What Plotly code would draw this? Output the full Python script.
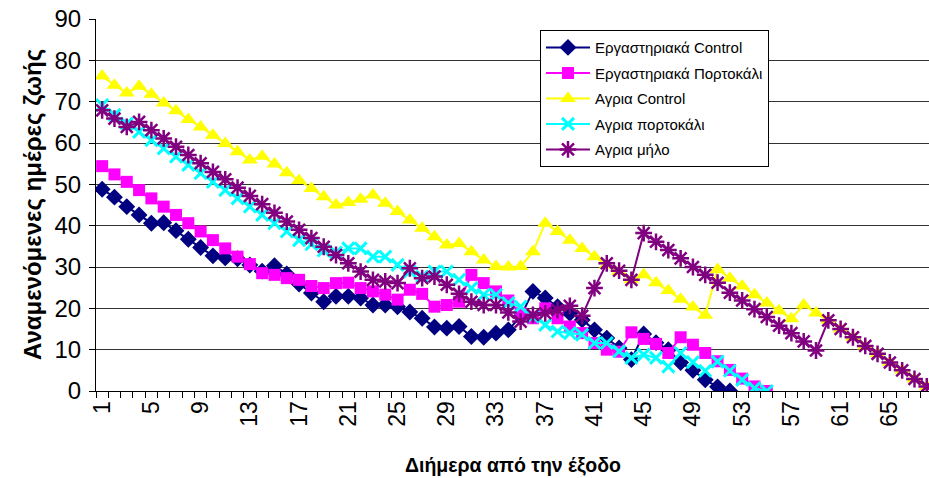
import plotly.graph_objects as go

days = list(range(1, 69))
tick_labels = [str(v) for v in range(1, 69, 4)]

lab_control = [48.8, 46.9, 44.6, 42.6, 40.6, 40.7, 38.8, 36.7, 34.7, 32.7,
               32.2, 32.0, 30.5, 29.0, 30.3, 28.3, 25.9, 23.7, 21.6, 22.9,
               22.9, 22.5, 20.8, 20.8, 20.4, 19.1, 17.6, 15.5, 15.2, 15.6,
               13.2, 13.0, 14.0, 14.8, 18.0, 24.1, 22.5, 20.4, 18.8, 17.2,
               14.8, 12.8, 10.4, 7.6, 13.8, 11.7, 10.0, 6.9, 5.0, 2.7,
               1.0, 0.0]

lab_orange = [54.4, 52.4, 50.6, 48.6, 46.6, 44.6, 42.6, 40.6, 38.6, 36.5,
              34.5, 32.5, 30.7, 28.5, 28.1, 27.3, 26.9, 25.4, 24.9, 26.1,
              26.2, 24.9, 24.1, 23.3, 22.1, 24.5, 23.5, 20.4, 20.8, 21.6,
              28.1, 26.1, 24.1, 21.9, 18.8, 17.6, 20.0, 17.6, 15.6, 14.0,
              11.6, 10.0, 9.5, 14.2, 12.6, 11.4, 9.2, 13.0, 11.2, 9.2,
              7.2, 5.1, 3.0, 1.1, 0.0]

wild_control = [76.2, 74.0, 72.1, 73.7, 71.8, 69.7, 67.8, 65.7, 63.9, 61.9,
                59.9, 57.9, 55.9, 56.8, 54.9, 52.8, 50.9, 49.0, 47.0, 45.0,
                45.6, 46.4, 47.4, 45.4, 43.4, 41.4, 39.4, 37.3, 35.3, 35.7,
                33.7, 31.7, 30.1, 30.0, 30.1, 33.7, 40.6, 38.6, 36.5, 34.5,
                32.5, 30.5, 28.9, 26.9, 28.1, 26.2, 24.3, 22.2, 20.3, 18.3,
                29.4, 27.3, 25.4, 23.3, 21.3, 19.4, 17.5, 20.8, 18.9, 17.1,
                15.0, 13.0, 10.9, 9.0, 6.9, 5.0, 2.9, 1.1]

wild_orange = [69.2, 66.8, 64.7, 62.7, 60.7, 58.7, 56.7, 54.7, 52.7, 50.6,
               48.6, 46.6, 44.6, 42.6, 40.6, 38.6, 36.5, 35.5, 34.0, 33.5,
               34.5, 34.5, 32.5, 32.5, 30.5, 28.9, 27.7, 28.9, 28.9, 26.9,
               24.9, 23.3, 23.3, 21.3, 20.4, 18.0, 16.0, 14.4, 14.0, 13.6,
               11.6, 11.6, 9.6, 8.0, 8.8, 8.0, 5.9, 9.2, 7.0, 4.9,
               7.1, 4.9, 2.7, 0.7, 0.0]

wild_apple = [67.9, 65.9, 63.9, 65.1, 63.1, 61.1, 59.1, 57.1, 55.1, 53.0,
              51.2, 49.2, 47.2, 45.2, 43.1, 41.0, 39.0, 37.0, 34.9, 32.9,
              30.9, 28.9, 26.9, 26.5, 26.1, 29.7, 27.3, 27.7, 25.7, 23.5,
              21.6, 20.8, 20.8, 19.0, 16.8, 18.4, 18.8, 19.6, 20.6, 18.2,
              24.9, 30.9, 29.1, 26.9, 38.2, 36.1, 34.1, 32.1, 30.0, 28.1,
              26.2, 23.8, 21.9, 19.8, 17.9, 15.8, 14.0, 12.0, 9.8, 17.1,
              15.0, 13.0, 10.9, 9.0, 6.9, 5.0, 2.9, 1.1]

series_names = ["Εργαστηριακά Control", "Εργαστηριακά Πορτοκάλι", "Αγρια Control",
                "Αγρια πορτοκάλι", "Αγρια μήλο"]

FONT = "Liberation Sans, Arial, sans-serif"

fig = go.Figure()

def add(name, vals, color, symbol, size, marker_line=None, group="g"):
    marker = dict(symbol=symbol, size=size, color=color)
    if marker_line is not None:
        marker["line"] = dict(color=color, width=marker_line)
    else:
        marker["line"] = dict(width=0)
    fig.add_trace(go.Scatter(
        x=days[:len(vals)], y=vals, name=name, mode="lines+markers",
        line=dict(color=color, width=2), marker=marker, legendgroup=group,
    ))

add(series_names[0], lab_control, "#000080", "diamond", 13, group="a")
add(series_names[1], lab_orange, "#FF00FF", "square", 12, group="b")
add(series_names[2], wild_control, "#FFFF00", "triangle-up", 14, group="c")
add(series_names[3], wild_orange, "#00FFFF", "x-thin", 12, marker_line=3, group="d")
add(series_names[4], wild_apple, "#800080", "asterisk", 14, marker_line=2.5, group="e")

fig.update_layout(
    width=929, height=478,
    margin=dict(l=96, r=0, t=19, b=87),
    paper_bgcolor="white", plot_bgcolor="white",
    font=dict(family=FONT, color="black"),
    showlegend=True,
    legend=dict(
        x=0.533, y=0.97, xanchor="left", yanchor="top",
        bgcolor="white", bordercolor="black", borderwidth=1,
        font=dict(family=FONT, size=15, color="black"),
        traceorder="grouped", tracegroupgap=3, itemwidth=44,
    ),
    xaxis=dict(
        range=[0.5, 68.18], tickmode="array",
        tickvals=list(range(1, 69, 4)), ticktext=tick_labels,
        ticks="", tickangle=-90, tickfont=dict(size=23, family=FONT),
        showgrid=False, zeroline=False, showline=True, linecolor="black", linewidth=1,
        minor=dict(tickmode="array", tickvals=[k + 0.5 for k in range(0, 69)],
                   ticks="outside", ticklen=6, tickcolor="black", tickwidth=1, showgrid=False),
    ),
    yaxis=dict(
        range=[0, 90], dtick=10, tick0=0,
        ticks="outside", ticklen=6, tickcolor="black",
        tickfont=dict(size=24, family=FONT), ticklabelstandoff=3,
        showgrid=True, gridcolor="#333333", gridwidth=1,
        zeroline=False, showline=True, linecolor="black", linewidth=1,
    ),
    annotations=[
        dict(text="<b>Αναμενόμενες ημέρες ζωής</b>", xref="paper", yref="paper",
             x=0, y=0.5, xshift=-64, xanchor="center", yanchor="middle",
             textangle=-90, showarrow=False, font=dict(size=24, family=FONT)),
        dict(text="<b>Διήμερα από την έξοδο</b>", xref="paper", yref="paper",
             x=0.5, y=0, yshift=-74, xanchor="center", yanchor="middle",
             showarrow=False, font=dict(size=19.5, family="Liberation Sans Narrow, " + FONT)),
    ],
)

fig.write_html("out.html")
